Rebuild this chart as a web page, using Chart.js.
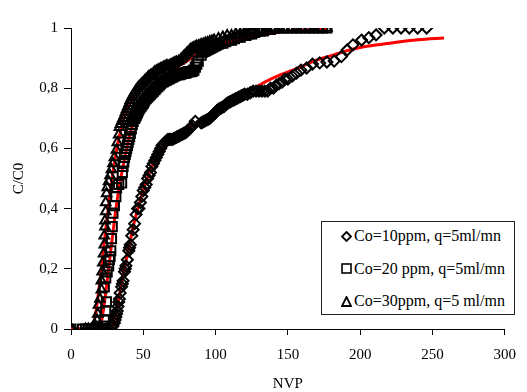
<!DOCTYPE html>
<html>
<head>
<meta charset="utf-8">
<script src="https://cdn.jsdelivr.net/npm/chart.js@4/dist/chart.umd.min.js"></script>
<style>
  body { margin: 0; background: #fff; }
  #wrap { position: relative; width: 527px; height: 392px; }
  #legend {
    position: absolute; left: 321px; top: 221px; width: 192px; height: 92px;
    border: 1px solid #222; background: #fff;
    font-family: "Liberation Serif", "Times New Roman", serif; font-size: 16px; color: #000;
  }
  #legend .row { position: absolute; left: 0; height: 20px; display: flex; align-items: center; white-space: nowrap; }
  #legend svg { margin-left: 19px; margin-right: 2px; }
</style>
</head>
<body>
<div id="wrap">
  <canvas id="chart" width="527" height="392"></canvas>
  <div id="legend"></div>
</div>
<script>
// axis ticks
const xTicks = [0, 50, 100, 150, 200, 250, 300];
const yTicks = [0, 0.2, 0.4, 0.6, 0.8, 1];

const seriesNames = [
  "Co=10ppm, q=5ml/mn",
  "Co=20 ppm, q=5ml/mn",
  "Co=30ppm, q=5 ml/mn",
];

// measured points, Co=10ppm (diamonds)
const co10 = [
  [0, 0], [20, 0], [22, 0], [24, 0], [26, 0], [28, 0.005], [29, 0.01], [30, 0.02],
  [30.5, 0.03], [31, 0.04], [31.5, 0.05], [32, 0.06], [32.5, 0.075], [33, 0.09],
  [33.5, 0.1], [34, 0.12], [35, 0.14], [35.5, 0.15], [36, 0.16], [37, 0.19], [37.5, 0.2],
  [38, 0.21], [39, 0.23], [40, 0.26], [40.5, 0.27], [41, 0.28], [42, 0.31], [43, 0.33],
  [44, 0.35], [45, 0.38], [46, 0.4], [47, 0.4], [48, 0.42], [49, 0.44], [50, 0.46],
  [51, 0.47], [52, 0.48], [53, 0.5], [54, 0.51], [55, 0.52], [56, 0.54], [57, 0.55],
  [58, 0.56], [59, 0.57], [60, 0.58], [61, 0.59], [62, 0.6], [63, 0.61], [64, 0.615],
  [65, 0.62], [66, 0.625], [67, 0.63], [68, 0.63], [69, 0.63], [70, 0.63], [71, 0.632],
  [72, 0.635], [73, 0.637], [74, 0.64], [75, 0.642], [76, 0.645], [77, 0.647], [78, 0.65],
  [79, 0.652], [80, 0.655], [81, 0.66], [82, 0.665], [83, 0.67], [84, 0.675], [86, 0.69],
  [90, 0.685], [91, 0.687], [92, 0.69], [93, 0.692], [94, 0.695], [95, 0.697], [96, 0.7],
  [97, 0.705], [98, 0.71], [99, 0.715], [100, 0.72], [101, 0.725], [102, 0.73], [103, 0.732],
  [104, 0.735], [105, 0.737], [106, 0.74], [107, 0.745], [108, 0.75], [109, 0.752],
  [110, 0.755], [111, 0.757], [112, 0.76], [113, 0.762], [114, 0.765], [115, 0.767],
  [116, 0.77], [117, 0.772], [118, 0.775], [119, 0.777], [120, 0.78], [122, 0.78],
  [124, 0.785], [126, 0.79], [128, 0.79], [130, 0.79], [132, 0.79], [134, 0.79],
  [136, 0.79], [138, 0.8], [140, 0.8], [142, 0.81], [144, 0.815], [146, 0.82], [148, 0.83],
  [150, 0.83], [153, 0.84], [156, 0.85], [159, 0.86], [163, 0.867], [167, 0.88],
  [172, 0.884], [177, 0.887], [182, 0.89], [187, 0.905], [191, 0.927], [195, 0.944],
  [201, 0.96], [206, 0.968], [211, 0.977], [216.7, 1], [222.6, 1], [228.3, 1], [234, 1],
  [239.7, 1], [246, 1],
];

// measured points, Co=20ppm (squares)
const co20 = [
  [0, 0], [8, 0], [10, 0], [12, 0], [14, 0], [16, 0], [18, 0], [20, 0], [22, 0.01],
  [23, 0.03], [24, 0.06], [24.5, 0.09], [23, 0.14], [24, 0.17], [25, 0.19], [26, 0.21],
  [26.5, 0.23], [27, 0.24], [27.5, 0.26], [28, 0.3], [28.5, 0.34], [29, 0.385],
  [30, 0.41], [31, 0.44], [31.5, 0.47], [33, 0.48], [35, 0.485], [35.5, 0.52],
  [36, 0.54], [36.5, 0.555], [37, 0.57], [37.5, 0.58], [38, 0.59], [38.5, 0.6], [39, 0.61],
  [39.5, 0.62], [40, 0.63], [40.5, 0.64], [41, 0.65], [41.7, 0.665], [42.4, 0.68],
  [43, 0.69], [44, 0.7], [44.5, 0.705], [45, 0.71], [45.5, 0.715], [46, 0.72], [46.5, 0.725],
  [47, 0.73], [47.7, 0.735], [48.5, 0.74], [49.2, 0.745], [50, 0.75], [50.5, 0.755],
  [51, 0.76], [52, 0.765], [53, 0.77], [54, 0.775], [55, 0.78], [56, 0.785], [57, 0.79],
  [58, 0.795], [58.8, 0.8], [60, 0.805], [61, 0.81], [62, 0.815], [63, 0.82], [64, 0.822],
  [65, 0.825], [66, 0.827], [67, 0.83], [68, 0.832], [69, 0.835], [70, 0.837], [71, 0.84],
  [72, 0.842], [73, 0.845], [74, 0.845], [75, 0.845], [76, 0.847], [77, 0.85], [78, 0.85],
  [79, 0.85], [80, 0.852], [81, 0.855], [82, 0.855], [83, 0.855], [84, 0.857], [85, 0.86],
  [86, 0.87], [87, 0.88], [88, 0.89], [90, 0.91], [91, 0.92], [92, 0.922], [93, 0.925],
  [94, 0.927], [95, 0.93], [96, 0.932], [97, 0.935], [98, 0.937], [99, 0.94], [100, 0.942],
  [101, 0.945], [102, 0.947], [103, 0.95], [105, 0.95], [107, 0.955], [109, 0.96],
  [111, 0.96], [113, 0.965], [115, 0.97], [117, 0.97], [119, 0.975], [121, 0.975],
  [123, 0.98], [125, 0.98], [127, 0.985], [129, 0.99], [131, 0.99], [133, 0.99],
  [135, 0.995], [138, 0.995], [141, 1], [144, 1], [147, 1], [150, 1], [153, 1], [156, 1],
  [159, 1], [162, 1], [165, 1], [168, 1], [171, 1], [174, 1], [177, 1],
];

// measured points, Co=30ppm (triangles)
const co30 = [
  [0, 0], [10, 0], [12, 0], [14, 0], [16, 0], [17, 0.01], [18, 0.03], [18.5, 0.05],
  [19, 0.08], [20, 0.1], [21, 0.13], [21, 0.16], [21.5, 0.19], [22, 0.22], [22.5, 0.25],
  [23, 0.28], [23, 0.31], [23.5, 0.34], [23.5, 0.36], [24, 0.39], [24, 0.42], [24.6, 0.45],
  [25, 0.47], [26, 0.49], [27, 0.51], [28, 0.53], [29, 0.55], [30, 0.57], [31.4, 0.595],
  [32, 0.62], [33, 0.645], [33.5, 0.67], [34.2, 0.68], [35, 0.69], [36, 0.7], [37, 0.71],
  [37.7, 0.72], [38.5, 0.73], [39.4, 0.74], [40.3, 0.75], [41, 0.76], [42, 0.77],
  [43, 0.777], [44, 0.785], [45, 0.792], [46, 0.8], [47, 0.805], [48, 0.81], [49, 0.815],
  [50, 0.82], [51, 0.825], [52, 0.83], [53, 0.835], [54, 0.84], [55, 0.842], [56, 0.845],
  [57, 0.85], [58, 0.855], [59, 0.857], [60, 0.86], [61, 0.862], [62, 0.865], [63, 0.867],
  [64, 0.87], [65, 0.872], [66, 0.875], [67, 0.875], [68, 0.875], [69, 0.877], [70, 0.88],
  [71, 0.882], [72, 0.885], [73, 0.887], [74.5, 0.89], [76, 0.895], [77, 0.9], [78, 0.905],
  [79, 0.91], [80, 0.915], [81, 0.92], [82, 0.925], [83, 0.93], [84, 0.932], [85, 0.935],
  [86, 0.937], [87, 0.94], [88.5, 0.942], [90, 0.945], [91.5, 0.947], [93, 0.95],
  [94.5, 0.952], [96, 0.955], [97.5, 0.957], [99, 0.96], [102, 0.965], [105, 0.97],
  [108, 0.975], [111, 0.975], [114, 0.98], [117, 0.98], [120, 0.985], [124, 0.99],
  [128, 0.99], [132, 0.995], [136, 1], [140, 1], [144, 1], [148, 1], [152, 1], [156, 1],
  [160, 1], [164, 1], [168, 1], [172, 1], [177, 1],
];

// fitted curves (red)
const fit10 = [
  [28, 0], [30, 0.03], [33, 0.1], [36, 0.18], [40, 0.27], [44, 0.36], [48, 0.43],
  [52, 0.49], [56, 0.54], [60, 0.58], [65, 0.615], [70, 0.635], [75, 0.65], [80, 0.665],
  [88, 0.685], [100, 0.72], [110, 0.75], [120, 0.78], [134, 0.82], [145, 0.845],
  [156, 0.865], [168, 0.89], [180, 0.908], [191, 0.925], [200, 0.935], [212, 0.944],
  [225, 0.953], [240, 0.961], [258, 0.967],
];
const fit20 = [
  [0, 0], [15, 0], [20, 0.01], [22, 0.05], [24, 0.12], [26, 0.2], [28, 0.28], [30, 0.36],
  [32, 0.43], [34, 0.49], [36, 0.54], [39, 0.61], [42, 0.67], [46, 0.72], [50, 0.76],
  [55, 0.79], [60, 0.82], [70, 0.86], [80, 0.89], [90, 0.92], [100, 0.94], [115, 0.96],
  [130, 0.975], [150, 0.99], [177, 0.995],
];
const fit30 = [
  [0, 0], [12, 0], [15, 0.01], [17, 0.05], [19, 0.12], [21, 0.2], [23, 0.29], [25, 0.37],
  [27, 0.45], [29, 0.52], [31, 0.58], [33, 0.63], [36, 0.69], [40, 0.74], [45, 0.79],
  [50, 0.82], [60, 0.86], [70, 0.89], [80, 0.91], [90, 0.93], [100, 0.95], [115, 0.965],
  [130, 0.98], [150, 0.99], [177, 0.995],
];

const toXY = (arr) => arr.map(([x, y]) => ({ x, y }));
const serif = "'Liberation Serif', 'Times New Roman', serif";

function markerSet(label, pts, style, radius) {
  return {
    label,
    data: toXY(pts),
    showLine: false,
    pointStyle: style,
    pointRadius: radius,
    pointBorderColor: "#000",
    pointBackgroundColor: "rgba(255,255,255,0)",
    pointBorderWidth: 2,
    order: 1,
  };
}

function fitSet(pts) {
  return {
    label: "fit",
    data: toXY(pts),
    showLine: true,
    borderColor: "#ff0000",
    borderWidth: 3,
    pointRadius: 0,
    cubicInterpolationMode: "monotone",
    order: 2,
  };
}

new Chart(document.getElementById("chart"), {
  type: "scatter",
  data: {
    datasets: [
      fitSet(fit10),
      fitSet(fit20),
      fitSet(fit30),
      markerSet(seriesNames[0], co10, "rectRot", 5.5),
      markerSet(seriesNames[1], co20, "rect", 6.5),
      markerSet(seriesNames[2], co30, "triangle", 5.5),
    ],
  },
  options: {
    responsive: false,
    animation: false,
    devicePixelRatio: 1,
    layout: { padding: { top: 28, right: 17, left: 0, bottom: 0 } },
    plugins: { legend: { display: false }, tooltip: { enabled: false } },
    scales: {
      x: {
        type: "linear",
        min: xTicks[0],
        max: xTicks[xTicks.length - 1],
        afterBuildTicks: (s) => { s.ticks = xTicks.map((v) => ({ value: v })); },
        afterFit: (s) => { s.height = 63; },
        ticks: { color: "#000", font: { family: serif, size: 15 }, padding: 11, maxRotation: 0 },
        grid: { drawOnChartArea: false, drawTicks: true, tickLength: 6, color: "#000" },
        border: { color: "#000", width: 1 },
        title: { display: true, text: "NVP", color: "#000", font: { family: serif, size: 15, lineHeight: 1 }, padding: 0 },
      },
      y: {
        min: yTicks[0],
        max: yTicks[yTicks.length - 1],
        afterBuildTicks: (s) => { s.ticks = yTicks.map((v) => ({ value: v })); },
        afterFit: (s) => { s.width = 71; },
        ticks: {
          color: "#000",
          font: { family: serif, size: 15 },
          padding: 6,
          callback: (v) => String(Math.round(v * 10) / 10).replace(".", ","),
        },
        grid: { drawOnChartArea: false, drawTicks: true, tickLength: 7, color: "#000" },
        border: { color: "#000", width: 1 },
        title: { display: true, text: "C/C0", color: "#000", font: { family: serif, size: 15, lineHeight: 1.2 }, padding: { top: 10, bottom: 0 } },
      },
    },
  },
});

// LEGEND (html overlay)
const legend = document.getElementById("legend");
const icons = [
  '<svg width="11" height="11"><polygon points="5.5,1 10,5.5 5.5,10 1,5.5" fill="none" stroke="#000" stroke-width="1.8"/></svg>',
  '<svg width="11" height="11"><rect x="1" y="1" width="9" height="9" fill="none" stroke="#000" stroke-width="1.6"/></svg>',
  '<svg width="11" height="11"><polygon points="5.5,1 10,10 1,10" fill="none" stroke="#000" stroke-width="1.8"/></svg>',
];
seriesNames.forEach((name, i) => {
  const row = document.createElement("div");
  row.className = "row";
  row.style.top = 4 + i * 32.5 + "px";
  row.innerHTML = icons[i] + "<span>" + name + "</span>";
  legend.appendChild(row);
});
</script>
</body>
</html>
